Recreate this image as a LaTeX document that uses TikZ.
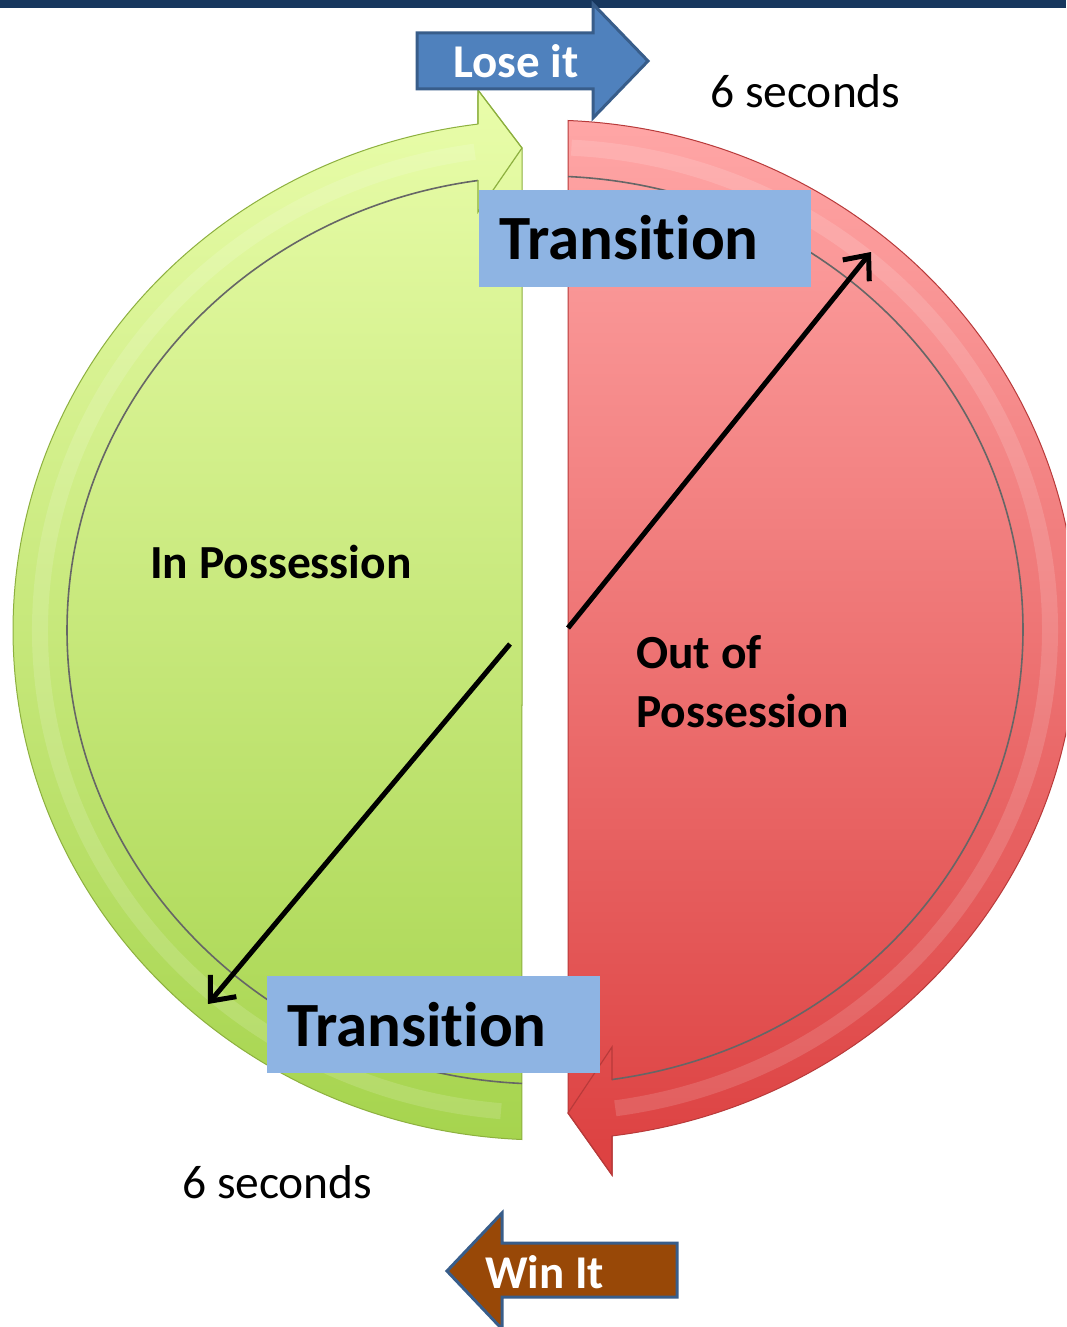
\documentclass[tikz,border=0pt]{standalone}
\usepackage{fontspec}
\setmainfont{Carlito}[Ligatures={NoCommon}, RawFeature={-liga;-clig;-dlig}]
\usetikzlibrary{arrows.meta}
\definecolor{navy}{HTML}{17375E}
\definecolor{gtop}{HTML}{E9FDAA}
\definecolor{gbot}{HTML}{A6D44E}
\definecolor{gedge}{HTML}{8DB03F}
\definecolor{rtop}{HTML}{FFA6A6}
\definecolor{rbot}{HTML}{DC4040}
\definecolor{redge}{HTML}{B83A3A}
\definecolor{tbfill}{HTML}{8EB4E3}
\definecolor{losefill}{HTML}{4F81BD}
\definecolor{loseedge}{HTML}{385D8A}
\definecolor{winfill}{HTML}{984807}
\tikzset{
  tbox/.style={fill=tbfill, draw=none, rectangle, anchor=north west, inner sep=0pt},
  ttext/.style={font=\bfseries\fontsize{63}{72}\selectfont, anchor=base west, inner sep=0pt, text=black},
  plain/.style={font=\fontsize{47.5}{54}\selectfont, anchor=base west, inner sep=0pt},
  boldlab/.style={font=\bfseries\fontsize{47.5}{54}\selectfont, anchor=base west, inner sep=0pt},
  arrlab/.style={font=\bfseries\fontsize{47}{54}\selectfont, anchor=base west, inner sep=0pt, text=white},
  innerline/.style={draw=black!60, line width=1.6pt},
  bevel/.style={draw=white, opacity=0.14, line width=16pt},
  blockarrow/.style={line width=3pt, draw=loseedge, line join=miter},
  diag/.style={line width=5pt, -{Straight Barb[length=20pt,width=34pt,line width=5pt]}}
}
\begin{document}
\begin{tikzpicture}[x=1pt,y=-1pt]
\useasboundingbox (0,0) rectangle (1066,1327);
\clip (0,0) rectangle (1066,1327);
\fill[white] (0,0) rectangle (1066,1327);
\coordinate (C) at (545,630);
% top bar
\fill[navy] (0,0) rectangle (1066,8);
% green half (in possession) with arrow at top
\shade[top color=gtop, bottom color=gbot, draw=gedge, line width=1pt]
  (C) ++(92.48:532 and 510) arc[start angle=92.48, end angle=262.76, x radius=532, y radius=510]
  -- (478,90) -- (522,148) -- cycle;
\draw[bevel] (C) ++(95:505 and 483) arc[start angle=95, end angle=262, x radius=505, y radius=483];
\draw[innerline] (C) ++(92.76:478 and 454) arc[start angle=92.76, end angle=261.94, x radius=478, y radius=454];
\draw[gedge, line width=1.2pt] (478,124) -- (478,90) -- (522,148) -- (478,212) -- (478,180);
% red half (out of possession) with arrow at bottom
\shade[top color=rtop, bottom color=rbot, draw=redge, line width=1pt]
  (C) ++(-87.52:532 and 510) arc[start angle=-87.52, end angle=82.76, x radius=532, y radius=510]
  -- (612,1175) -- (568,1113) -- cycle;
\draw[bevel] (C) ++(-87:505 and 483) arc[start angle=-87, end angle=82, x radius=505, y radius=483];
\draw[innerline] (C) ++(-87.24:478 and 454) arc[start angle=-87.24, end angle=81.94, x radius=478, y radius=454];
\draw[redge, line width=1.2pt] (612,1136) -- (612,1175) -- (568,1113) -- (612,1047) -- (612,1080);
% diagonal arrows
\coordinate (d1s) at (568,628);
\coordinate (d1e) at (871,252);
\coordinate (d2s) at (510,644);
\coordinate (d2e) at (208,1004);
\draw[diag] (d1s) -- (d1e);
\draw[diag] (d2s) -- (d2e);
% transition boxes
\node[tbox, minimum width=332pt, minimum height=97pt] (tb1) at (479,190) {};
\node[ttext] (tt1) at (499,259) {Transi\kern0pt tion};
\node[tbox, minimum width=333pt, minimum height=97pt] (tb2) at (267,976) {};
\node[ttext] (tt2) at (287,1046) {Transi\kern0pt tion};
% lose it arrow
\filldraw[blockarrow, fill=losefill] (417,33) -- (593,33) -- (593,4) -- (648,61) -- (593,118) -- (593,89) -- (417,89) -- cycle;
\node[arrlab] (lose) at (453,78) {Lose it};
% win it arrow
\filldraw[blockarrow, fill=winfill] (677,1243) -- (502,1243) -- (502,1213) -- (447,1271) -- (502,1329) -- (502,1297) -- (677,1297) -- cycle;
\node[arrlab] (win) at (485,1288) {Win It};
% labels
\node[plain] (s1) at (710,108) {6 seconds};
\node[plain] (s2) at (182,1198) {6 seconds};
\node[boldlab] (inpos) at (150,578) {In Possession};
\node[boldlab] (outof) at (636,668) {Out of};
\node[boldlab] (outpos) at (636,727) {Possession};
\end{tikzpicture}
\end{document}
